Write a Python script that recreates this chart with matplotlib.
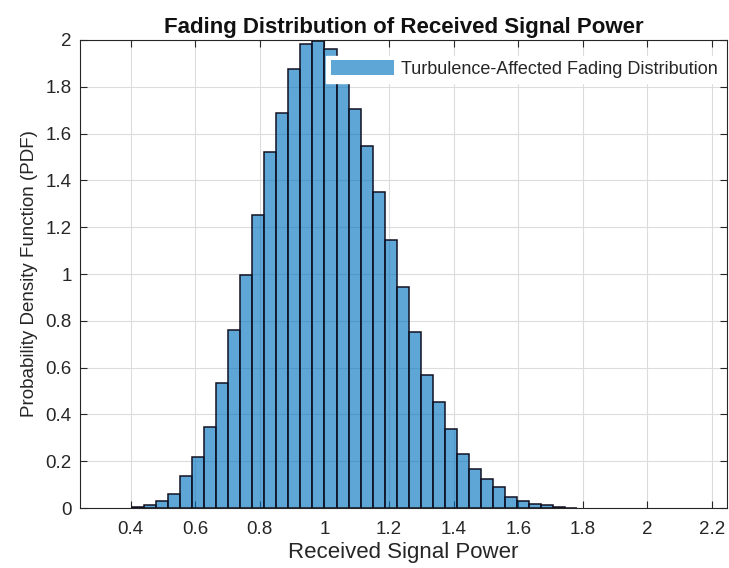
import numpy as np
import matplotlib.pyplot as plt

# --- data (pdf-normalised) ---
bin_start = 0.405
bin_width = 0.0372
pdf_heights = [0.004, 0.013, 0.031, 0.061, 0.137, 0.218, 0.348, 0.534,
               0.759, 0.994, 1.252, 1.520, 1.686, 1.874, 1.981, 1.995,
               1.960, 1.830, 1.703, 1.546, 1.351, 1.147, 0.943, 0.752,
               0.570, 0.452, 0.337, 0.231, 0.165, 0.124, 0.089, 0.048,
               0.031, 0.017, 0.011, 0.004, 0.002]
x_ticks = [0.4, 0.6, 0.8, 1.0, 1.2, 1.4, 1.6, 1.8, 2.0, 2.2]
y_ticks = [0, 0.2, 0.4, 0.6, 0.8, 1.0, 1.2, 1.4, 1.6, 1.8, 2.0]

plt.rcParams['font.family'] = ['Liberation Sans', 'DejaVu Sans']
dark = '#262626'

fig = plt.figure(figsize=(7.29, 5.68), dpi=100)
ax = fig.add_axes([0.1097, 0.1056, 0.8873, 0.824])

left_edges = bin_start + bin_width * np.arange(len(pdf_heights))
ax.bar(left_edges, pdf_heights, width=bin_width, align='edge',
       facecolor=(0.0, 0.447, 0.741, 0.63), edgecolor='#111122', linewidth=1.1,
       label='Turbulence-Affected Fading Distribution', zorder=2)

ax.set_xlim(0.243, 2.246)
ax.set_ylim(0, 2)
ax.set_xticks(x_ticks)
ax.set_xticklabels([f'{v:g}' for v in x_ticks])
ax.set_yticks(y_ticks)
ax.set_yticklabels([f'{v:g}' for v in y_ticks])
ax.tick_params(direction='in', length=5, width=0.8, top=True, right=True,
               labelsize=13.5, colors=dark, pad=9)
ax.tick_params(axis='y', pad=6)
ax.grid(True, color='#dcdcdc', linewidth=0.8, zorder=0)
ax.set_axisbelow(True)
for s in ax.spines.values():
    s.set_color(dark)
    s.set_linewidth(0.8)

ax.set_xlabel('Received Signal Power', fontsize=16, color=dark, labelpad=3)
ax.set_ylabel('Probability Density Function (PDF)', fontsize=13.5, color=dark, labelpad=5)
ax.set_title('Fading Distribution of Received Signal Power', fontsize=16,
             fontweight='bold', color='#111111', pad=5)

leg = ax.legend(loc='upper right', bbox_to_anchor=(0.993, 0.966), fontsize=13,
                handlelength=3.5, handleheight=0.9, handletextpad=0.4,
                borderpad=0.25, borderaxespad=0.0, fancybox=False,
                framealpha=1.0, edgecolor='white')
for h in leg.legend_handles:
    h.set_edgecolor('none')
for t in leg.get_texts():
    t.set_color(dark)

fig.savefig('out.png', dpi=100)
